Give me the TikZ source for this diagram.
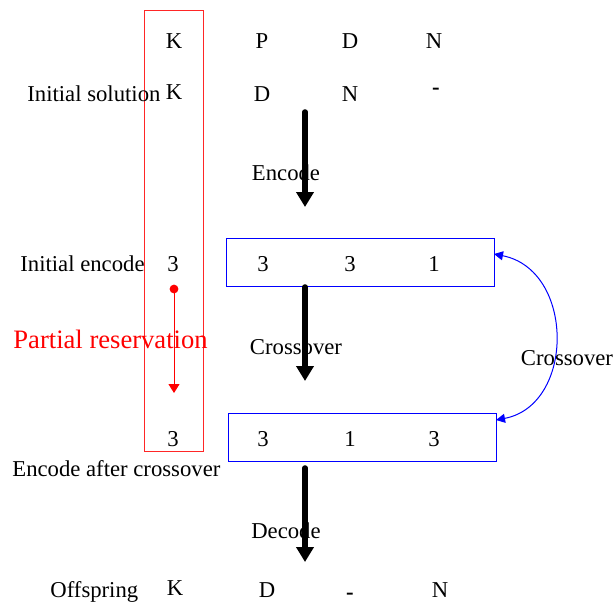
\documentclass[tikz,border=0pt]{standalone}
\usepackage{fontspec}
\setmainfont{Liberation Serif}
\usetikzlibrary{arrows.meta}
\begin{document}
\begin{tikzpicture}[x=0.5pt,y=-0.5pt,
  font=\fontsize{11.35}{13}\selectfont,
  cell/.style={anchor=base,inner sep=0pt},
  lbl/.style={anchor=base west,inner sep=0pt},
  gap/.style={anchor=base,inner sep=0pt,font=\fontsize{11.35}{13}\selectfont\bfseries},
  codebox/.style={draw=blue,line width=0.5pt,minimum width=134pt,minimum height=24pt,inner sep=0pt},
  keepbox/.style={draw=red!85,line width=0.5pt,minimum width=29.5pt,minimum height=220.5pt,inner sep=0pt},
  bigarrow/.style={line width=2.8pt,line cap=round,-{Triangle[width=8.5pt,length=7.5pt]}},
  redarrow/.style={draw=red,line width=0.5pt,-{Triangle[width=5.5pt,length=4.5pt]}},
  swaparrow/.style={draw=blue,line width=0.5pt,{Triangle[width=4.5pt,length=4.5pt]}-{Triangle[width=4.5pt,length=4.5pt]}}]
\useasboundingbox (0,0) rectangle (613,601);

% reserved first gene column
\node[keepbox] (keep) at (173.5,230.5) {};

% header row
\node[cell] (h1) at (174,48) {K};
\node[cell] (h2) at (262,48) {P};
\node[cell] (h3) at (350,48) {D};
\node[cell] (h4) at (434,48) {N};

% initial solution
\node[lbl] (solL) at (27,101) {Initial solution};
\node[cell] (s1) at (174,99) {K};
\node[cell] (s2) at (262,101) {D};
\node[cell] (s3) at (350,101) {N};
\node[gap] (s4) at (436,94) {-};

% encode step
\coordinate (encA) at (305,112);
\coordinate (encB) at (305,207);
\draw[bigarrow] (encA) -- (encB);
\node[cell] (encL) at (286,180) {Encode};

% initial encode
\node[lbl] (ieL) at (20,271) {Initial encode};
\node[cell] (ie1) at (173,271) {3};
\node[codebox] (box1) at (360,262) {};
\node[cell] (ie2) at (263,271) {3};
\node[cell] (ie3) at (350,271) {3};
\node[cell] (ie4) at (434,271) {1};

% crossover step
\coordinate (crA) at (305,287);
\coordinate (crB) at (305,381);
\draw[bigarrow] (crA) -- (crB);
\node[cell] (crL) at (296,354) {Crossover};

% partial reservation
\node[lbl,text=red,font=\fontsize{13.3}{15}\selectfont] (prL) at (13,348) {Partial reservation};
\coordinate (prA) at (174,289);
\coordinate (prB) at (174,393);
\fill[red] (prA) circle (2.2pt);
\draw[redarrow] (prA) -- (prB);

% encode after crossover
\node[codebox] (box2) at (362,437) {};
\node[cell] (ac1) at (173,446) {3};
\node[cell] (ac2) at (263,446) {3};
\node[cell] (ac3) at (350,446) {1};
\node[cell] (ac4) at (434,446) {3};
\node[lbl] (acL) at (12,476) {Encode after crossover};

% crossover exchange between the two codes
\coordinate (swA) at (494,254);
\coordinate (swB) at (496,420);
\draw[swaparrow] (swA) .. controls (575,270) and (575,405) .. (swB);
\node[cell] (swL) at (567,365) {Crossover};

% decode step
\coordinate (decA) at (305,468);
\coordinate (decB) at (305,562);
\draw[bigarrow] (decA) -- (decB);
\node[cell] (decL) at (286,538) {Decode};

% offspring
\node[lbl] (ofL) at (50,597) {Offspring};
\node[cell] (of1) at (175,595) {K};
\node[cell] (of2) at (267,597) {D};
\node[gap] (of3) at (350,599) {-};
\node[cell] (of4) at (440,597) {N};
\end{tikzpicture}
\end{document}
